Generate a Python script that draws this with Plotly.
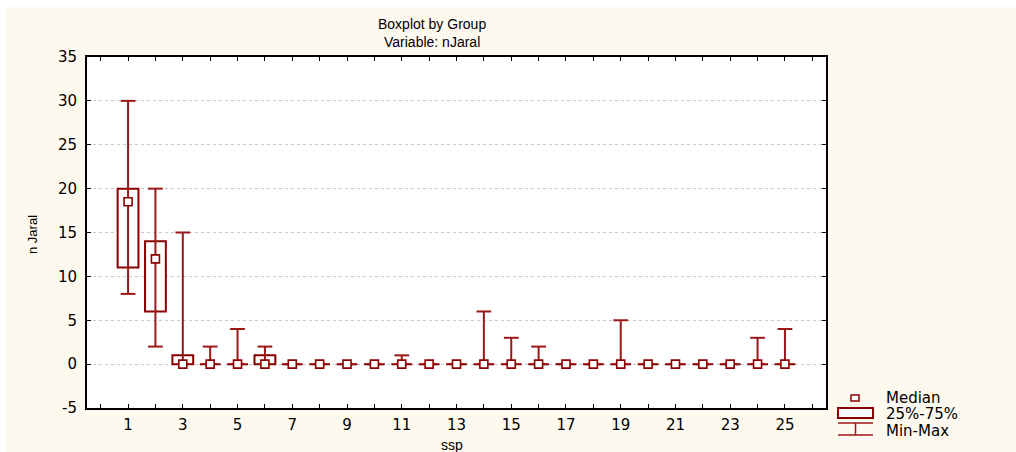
import plotly.graph_objects as go

# ---- data ----
ssp = list(range(1, 26))
mins = [8, 2, 0, 0, 0, 0, 0, 0, 0, 0, 0, 0, 0, 0, 0, 0, 0, 0, 0, 0, 0, 0, 0, 0, 0]
q1s = [11, 6, 0, 0, 0, 0, 0, 0, 0, 0, 0, 0, 0, 0, 0, 0, 0, 0, 0, 0, 0, 0, 0, 0, 0]
medians = [18.5, 12, 0, 0, 0, 0, 0, 0, 0, 0, 0, 0, 0, 0, 0, 0, 0, 0, 0, 0, 0, 0, 0, 0, 0]
q3s = [20, 14, 1, 0, 0, 1, 0, 0, 0, 0, 0, 0, 0, 0, 0, 0, 0, 0, 0, 0, 0, 0, 0, 0, 0]
maxs = [30, 20, 15, 2, 4, 2, 0, 0, 0, 0, 1, 0, 0, 6, 3, 2, 0, 0, 5, 0, 0, 0, 0, 3, 4]
x_tick_vals = list(range(0, 27))
x_tick_text = [str(v) if v % 2 == 1 else "" for v in x_tick_vals]
y_tick_vals = [-5, 0, 5, 10, 15, 20, 25, 30, 35]
y_tick_text = ["-5", "0", "5", "10", "15", "20", "25", "30", "35"]
legend_labels = ["Median", "25%-75%", "Min-Max"]

RED = "#8B0000"
WHISK = "#9A1818"
CREAM = "#FEF9EF"
CAP = 0.27
BOXW = 0.76

# figure geometry (figure is placed 5px right / 7px down in the page; it
# extends a little past the window so the cream fills to the edges)
W, H = 1030, 460
L, T = 82, 50
PW, PH = 739, 351
R, B = W - L - PW, H - T - PH


def px(xp):  # page x -> paper x
    return (xp - 5 - L) / PW


def py(yp):  # page y -> paper y
    return (T + PH - (yp - 7)) / PH


# whiskers (min-max) built from the data
wx, wy = [], []
for x, lo, hi in zip(ssp, mins, maxs):
    wx += [x, x, None, x - CAP, x + CAP, None, x - CAP, x + CAP, None]
    wy += [lo, hi, None, lo, lo, None, hi, hi, None]

fig = go.Figure()
fig.add_trace(go.Scatter(
    x=wx, y=wy, mode="lines", name="Min-Max",
    line=dict(color=WHISK, width=2), hoverinfo="skip"))
fig.add_trace(go.Bar(
    x=ssp, y=[b - a for a, b in zip(q1s, q3s)], base=q1s, width=BOXW,
    name="25%-75%", marker=dict(color="white", line=dict(color=RED, width=2))))
fig.add_trace(go.Scatter(
    x=ssp, y=medians, mode="markers", name="Median",
    marker=dict(symbol="square", size=8, color="white",
                line=dict(color=RED, width=1.6))))

TICKFONT = dict(family="DejaVu Sans", size=15, color="black")
axis_common = dict(showline=True, linecolor="black", linewidth=2, mirror="ticks",
                   ticks="inside", ticklen=4, tickcolor="black", tickwidth=1,
                   zeroline=False, automargin=False, tickfont=TICKFONT)

fig.update_layout(
    width=W, height=H,
    paper_bgcolor=CREAM, plot_bgcolor="white",
    margin=dict(l=L, r=R, t=T, b=B),
    barmode="overlay", showlegend=False,
    xaxis=dict(range=[-0.5, 26.5], tickmode="array", tickvals=x_tick_vals,
               ticktext=x_tick_text, showgrid=False, ticklabelstandoff=2,
               **axis_common),
    yaxis=dict(range=[-5, 35], tickmode="array", tickvals=y_tick_vals,
               ticktext=y_tick_text,
               showgrid=True, gridcolor="#C8C8C8", griddash="dot", gridwidth=1,
               ticklabelstandoff=5, **axis_common),
)

TFONT = dict(family="Liberation Sans", size=14, color="black")
ann = [
    dict(text="Boxplot by Group", x=px(432), y=py(24)),
    dict(text="Variable: nJaral", x=px(432), y=py(42)),
    dict(text="ssp", x=px(452), y=py(445)),
]
for a in ann:
    fig.add_annotation(xref="paper", yref="paper", xanchor="center", yanchor="middle",
                       showarrow=False, font=TFONT, **a)
fig.add_annotation(text="n Jaral", xref="paper", yref="paper", x=px(32), y=py(235),
                   textangle=-90, xanchor="center", yanchor="middle", showarrow=False,
                   font=dict(family="Liberation Sans", size=13, color="black"))

# legend (drawn by hand to match the compact original)
LFONT = dict(family="DejaVu Sans", size=15, color="black")
for lab, yc in zip(legend_labels, [397.7, 414, 430.7]):
    fig.add_annotation(text=lab, xref="paper", yref="paper", x=px(884), y=py(yc),
                       xanchor="left", yanchor="middle", showarrow=False, font=LFONT)
# median glyph
fig.add_shape(type="rect", xref="paper", yref="paper", x0=px(851), x1=px(859),
              y0=py(401), y1=py(395), fillcolor="white", line=dict(color=RED, width=1.5))
# box glyph
fig.add_shape(type="rect", xref="paper", yref="paper", x0=px(838), x1=px(873),
              y0=py(418), y1=py(408), fillcolor="white", line=dict(color=RED, width=2))
# min-max glyph
for (x0, y0, x1, y1) in [(838, 423, 873, 423), (855.5, 423, 855.5, 435), (838, 435, 873, 435)]:
    fig.add_shape(type="line", xref="paper", yref="paper", x0=px(x0), x1=px(x1),
                  y0=py(y0), y1=py(y1), line=dict(color=WHISK, width=1.5))

fig.write_html(
    "out.html",
    post_script="document.body.style.margin='7px 0 0 5px';document.body.style.overflow='hidden';",
)
